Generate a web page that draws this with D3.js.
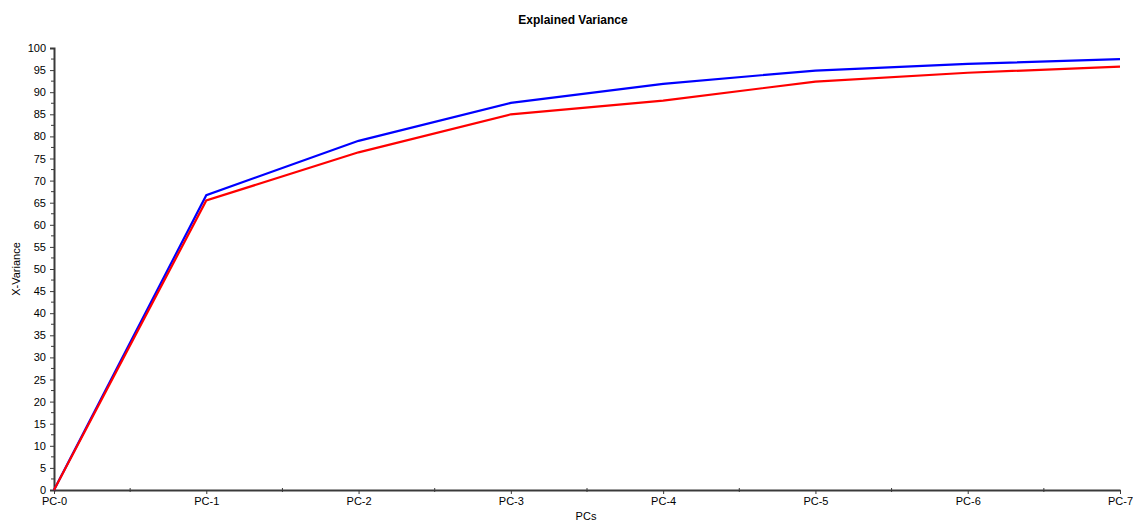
<!DOCTYPE html>
<html>
<head>
<meta charset="utf-8">
<script src="https://cdn.jsdelivr.net/npm/d3@7"></script>
<style>
  html, body { margin: 0; padding: 0; background: #fff; }
  svg { display: block; font-family: "Liberation Sans", Arial, sans-serif; }
</style>
</head>
<body>
<svg id="chart" width="1133" height="522"></svg>
<script>
// Principal components on the x axis
const components = ["PC-0", "PC-1", "PC-2", "PC-3", "PC-4", "PC-5", "PC-6", "PC-7"];
// Cumulative explained X-variance (%)
const blueVariance = [0, 66.7, 79.0, 87.6, 91.9, 94.9, 96.4, 97.5];
const redVariance  = [0, 65.5, 76.4, 85.0, 88.1, 92.4, 94.4, 95.8];
// Y tick labels
const yTicks = d3.range(0, 101, 5);

const svg = d3.select("#chart");
const margin = { left: 54, right: 13, top: 48, bottom: 32 };
const W = 1133, H = 522;

const x = d3.scalePoint()
  .domain(components)
  .range([margin.left, W - margin.right]);

const y = d3.scaleLinear()
  .domain([0, 100])
  .range([H - margin.bottom, margin.top]);

const axisColor = "#3a3a3a";

// Title
svg.append("text")
  .attr("x", 573).attr("y", 24)
  .attr("text-anchor", "middle")
  .attr("font-size", 12).attr("font-weight", "bold")
  .attr("fill", "#000")
  .text("Explained Variance");

// Y axis
const yAxis = svg.append("g")
  .attr("transform", `translate(${margin.left},0)`)
  .call(d3.axisLeft(y).tickValues(yTicks).tickSize(4).tickPadding(4).tickFormat(d3.format("d")));
yAxis.select(".domain").attr("stroke", axisColor).attr("stroke-width", 2);
yAxis.selectAll(".tick line").attr("stroke", axisColor);
yAxis.selectAll(".tick text").attr("font-size", 11).attr("fill", "#000")
  .attr("font-family", "'Liberation Sans', Arial, sans-serif");

// Minor y ticks between labelled ones
const yMinor = yTicks.slice(0, -1).map(v => v + 2.5);
svg.append("g").selectAll("line").data(yMinor).join("line")
  .attr("x1", margin.left - 3).attr("x2", margin.left)
  .attr("y1", d => y(d)).attr("y2", d => y(d))
  .attr("stroke", axisColor);

// X axis
const xAxis = svg.append("g")
  .attr("transform", `translate(0,${H - margin.bottom})`)
  .call(d3.axisBottom(x).tickSize(4).tickSizeOuter(0).tickPadding(3));
xAxis.select(".domain").attr("stroke", axisColor).attr("stroke-width", 2);
xAxis.selectAll(".tick line").attr("stroke", axisColor);
xAxis.selectAll(".tick text").attr("font-size", 11).attr("fill", "#000")
  .attr("font-family", "'Liberation Sans', Arial, sans-serif");

// Minor x ticks at midpoints between components
const xMid = components.slice(0, -1).map((c, i) => (x(c) + x(components[i + 1])) / 2);
svg.append("g").selectAll("line").data(xMid).join("line")
  .attr("x1", d => d).attr("x2", d => d)
  .attr("y1", H - margin.bottom - 2).attr("y2", H - margin.bottom + 2)
  .attr("stroke", axisColor);

// Axis titles
svg.append("text")
  .attr("x", 586).attr("y", 520)
  .attr("text-anchor", "middle")
  .attr("font-size", 11).attr("fill", "#000")
  .text("PCs");

svg.append("text")
  .attr("transform", "translate(20,269) rotate(-90)")
  .attr("text-anchor", "middle")
  .attr("font-size", 11).attr("fill", "#000")
  .text("X-Variance");

// Series lines
const line = d3.line()
  .x((d, i) => x(components[i]))
  .y(d => y(d));

svg.append("path")
  .datum(blueVariance)
  .attr("fill", "none")
  .attr("stroke", "#0000ff")
  .attr("stroke-width", 2.2)
  .attr("d", line);

svg.append("path")
  .datum(redVariance)
  .attr("fill", "none")
  .attr("stroke", "#ff0000")
  .attr("stroke-width", 2.2)
  .attr("d", line);
</script>
</body>
</html>
